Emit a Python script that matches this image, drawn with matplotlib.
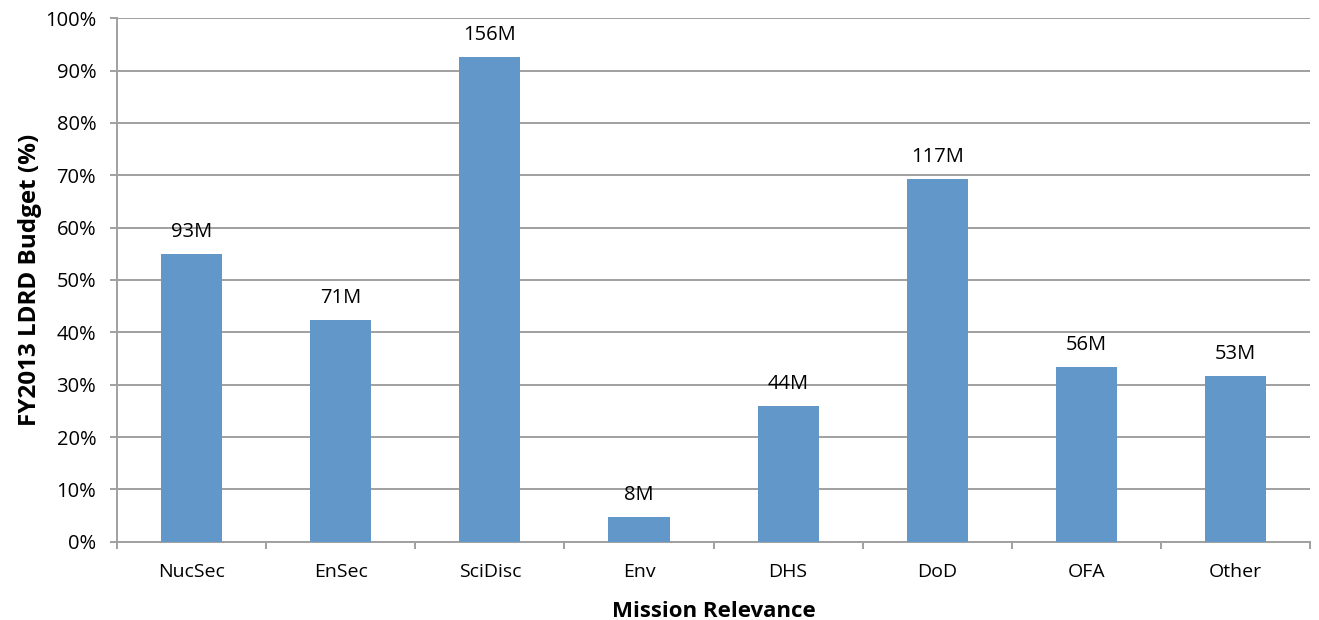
import numpy as np
import matplotlib.pyplot as plt
from matplotlib.ticker import MultipleLocator, FuncFormatter

# FY2013 LDRD budget share by mission area
categories = ['NucSec', 'EnSec', 'SciDisc', 'Env', 'DHS', 'DoD', 'OFA', 'Other']
share_pct = [55.0, 42.4, 92.6, 4.8, 25.9, 69.3, 33.4, 31.7]
budget_labels = ['93M', '71M', '156M', '8M', '44M', '117M', '56M', '53M']

plt.rcParams['font.family'] = ['Open Sans', 'DejaVu Sans']

fig = plt.figure(figsize=(13.19, 6.2), dpi=100)
ax = fig.add_axes([0.0887, 0.1263, 0.9045, 0.8442])

x = np.arange(len(categories))
bars = ax.bar(x, share_pct, width=0.41, color='#6197C9', zorder=3)

for b, lab in zip(bars, budget_labels):
    ax.annotate(lab, (b.get_x() + b.get_width() / 2, b.get_height()),
                xytext=(0, 8.5), textcoords='offset points',
                ha='center', va='bottom', fontsize=14.5, color='black')

ax.set_xlim(-0.5, len(categories) - 0.5)
ax.set_ylim(0, 100)
ax.yaxis.set_major_locator(MultipleLocator(10))
ax.yaxis.set_major_formatter(FuncFormatter(lambda v, p: f'{v:.0f}%'))
ax.grid(axis='y', color='#A0A0A0', linewidth=1.4, zorder=0)

# category labels centred, tick marks on the category boundaries
ax.set_xticks(x)
ax.set_xticklabels(categories, fontsize=14)
ax.tick_params(axis='x', length=0, pad=15)
ax.set_xticks(np.arange(len(categories) + 1) - 0.5, minor=True)
ax.tick_params(axis='x', which='minor', length=5, width=1.4, color='#A0A0A0')
ax.tick_params(axis='y', length=5, width=1.4, color='#A0A0A0', labelsize=14.5, pad=10)

for side in ['top', 'right']:
    ax.spines[side].set_visible(False)
for side in ['left', 'bottom']:
    ax.spines[side].set_color('#A0A0A0')
    ax.spines[side].set_linewidth(1.4)

ax.set_xlabel('Mission Relevance', fontsize=16, fontweight='bold', labelpad=15)
ax.set_ylabel('FY2013 LDRD Budget (%)', fontsize=17.5, fontweight='bold', labelpad=2)

fig.savefig('out.png', dpi=100)
